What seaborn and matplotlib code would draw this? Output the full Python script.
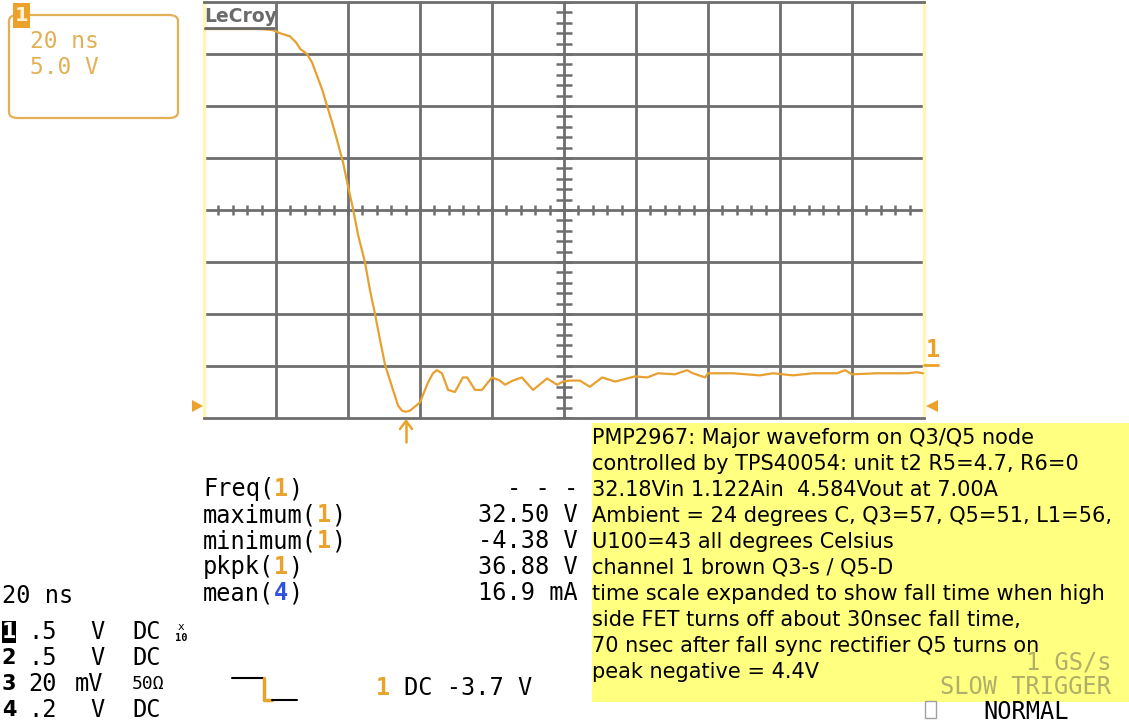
import numpy as np
import pandas as pd
import matplotlib
matplotlib.use("Agg")
import matplotlib.pyplot as plt
import seaborn as sns
from matplotlib.patches import Rectangle, FancyBboxPatch, Polygon
from matplotlib.lines import Line2D
from matplotlib.collections import LineCollection

# ---------------- data ----------------
time_ns = [0, 4.4, 10, 15.6, 19.2, 21.1, 23.9, 25.6, 26.7, 28.6, 30.0, 31.4, 32.8,
           34.2, 35.6, 36.9, 38.6, 40.0, 41.4, 42.8, 44.7, 46.1, 47.5, 48.9, 50.3,
           52.5, 53.9, 55.0, 56.1, 57.2, 60.0, 62.2, 63.6, 64.7, 66.1, 67.8, 69.7,
           71.9, 73.1, 75.3, 77.2, 80.0, 82.2, 83.6, 85.8, 88.3, 91.4, 95.3, 98.1,
           99.7, 101.7, 104.4, 107.2, 110.6, 114.2, 119.7, 123.1, 126.1, 130.8,
           134.2, 135.8, 139.2, 140.0, 146.9, 154.4, 158.1, 163.6, 169.2, 175.8,
           178.1, 180.0, 186.9, 195.3, 198.1, 199.7]
volts = [32.4, 32.4, 32.4, 32.4, 32.3, 32.0, 31.7, 31.1, 30.5, 30.0, 29.2, 27.9, 26.6,
         25.0, 23.4, 21.8, 19.6, 17.3, 15.1, 12.6, 10.0, 7.3, 5.0, 2.5, 0.1,
         -2.3, -3.8, -4.3, -4.4, -4.3, -3.5, -1.6, -0.7, -0.4, -0.7, -2.3, -2.5,
         -1.1, -1.1, -2.3, -2.3, -1.1, -1.4, -1.8, -1.4, -1.1, -2.3, -1.2, -1.8,
         -1.5, -1.4, -1.4, -2.0, -1.1, -1.5, -1.0, -1.1, -0.7, -0.8,
         -0.4, -0.7, -1.1, -0.7, -0.7, -0.9, -0.7, -0.9, -0.7, -0.7,
         -0.4, -0.8, -0.7, -0.7, -0.6, -0.7]

time_div_ticks = [20, 40, 60, 80, 100, 120, 140, 160, 180]
volt_div_ticks = [0, 5, 10, 15, 20, 25, 30]

meas_names = ["Freq", "maximum", "minimum", "pkpk", "mean"]
meas_channels = ["1", "1", "1", "1", "4"]
meas_values = ["- - -", "32.50 V", "-4.38 V", "36.88 V", "16.9 mA"]

chan_ids = ["1", "2", "3", "4"]
chan_scale = [".5", ".5", "20", ".2"]
chan_unit = ["V", "V", "mV", "V"]
chan_coupling = ["DC", "DC", "50Ω", "DC"]

note_lines = [
    "PMP2967: Major waveform on Q3/Q5 node",
    "controlled by TPS40054: unit t2 R5=4.7, R6=0",
    "32.18Vin 1.122Ain  4.584Vout at 7.00A",
    "Ambient = 24 degrees C, Q3=57, Q5=51, L1=56,",
    "U100=43 all degrees Celsius",
    "channel 1 brown Q3-s / Q5-D",
    "time scale expanded to show fall time when high",
    "side FET turns off about 30nsec fall time,",
    "70 nsec after fall sync rectifier Q5 turns on",
    "peak negative = 4.4V",
]

# ---------------- style ----------------
sns.set_style("white")
plt.rcParams['font.family'] = ['DejaVu Sans']

TRACE = "#E8A030"
ORANGE = "#EBA22A"
BOXTXT = "#E3B055"
GRID = "#6E6E6E"
LIGHTY = "#FFF6B8"
NOTE_BG = "#FFFF80"
MONO = "DejaVu Sans Mono"

W, H = 1129, 727
fig = plt.figure(figsize=(W / 100, H / 100), dpi=100)
fig.patch.set_facecolor("white")


def fx(x):
    return x / W


def fy(y):
    return 1 - y / H


def ftext(x, y, s, **kw):
    kw.setdefault("va", "center")
    kw.setdefault("ha", "left")
    return fig.text(fx(x), fy(y), s, **kw)


def fline(xs, ys, **kw):
    fig.add_artist(Line2D([fx(v) for v in xs], [fy(v) for v in ys], **kw))


# ---------------- scope grid + trace ----------------
ax = fig.add_axes([fx(204), fy(418), 720 / W, 416 / H])
df = pd.DataFrame({"t": time_ns, "v": volts})
ax.set_axisbelow(True)
sns.lineplot(data=df, x="t", y="v", ax=ax, color=TRACE, lw=1.6, zorder=5)
ax.set_xlim(0, 200)
ax.set_ylim(-5, 35)
ax.set_xticks(time_div_ticks)
ax.set_yticks(volt_div_ticks)
ax.grid(True, color=GRID, lw=2)
ax.tick_params(length=0, labelbottom=False, labelleft=False)
ax.set_xlabel("")
ax.set_ylabel("")
for side in ["top", "bottom"]:
    ax.spines[side].set_color(GRID)
    ax.spines[side].set_linewidth(2)
for side in ["left", "right"]:
    ax.spines[side].set_color(LIGHTY)
    ax.spines[side].set_linewidth(2.5)

# centre crosshair sub-division ticks
segs = []
for v in np.arange(-5, 35.01, 1.0):
    segs.append([(100 - 2.1, v), (100 + 2.1, v)])
for t in np.arange(0, 200.01, 4.0):
    segs.append([(t, 15 - 0.5), (t, 15 + 0.5)])
ax.add_collection(LineCollection(segs, colors=GRID, linewidths=1.8, zorder=1))

# LeCroy label
ftext(204, 16, "LeCroy", color="#6A6A6A", fontsize=13.5, fontweight="bold")
fline([205, 274], [28, 28], color="#6A6A6A", lw=2)

# ---------------- top-left channel box ----------------
fig.add_artist(FancyBboxPatch((fx(9), fy(118)), 169 / W, 103 / H,
                              boxstyle="round,pad=0,rounding_size=0.008",
                              transform=fig.transFigure, fc="white",
                              ec=BOXTXT, lw=1.6))
fig.add_artist(Rectangle((fx(13), fy(28)), 17 / W, 25 / H,
                         transform=fig.transFigure, fc=ORANGE, ec="none"))
ftext(21.5, 15.5, "1", color="#FFF2D0", fontsize=14, fontweight="bold", ha="center")
ftext(30, 42, "20 ns", color=BOXTXT, fontsize=16.5, family=MONO)
ftext(30, 67, "5.0 V", color=BOXTXT, fontsize=16.5, family=MONO)

# ---------------- side markers ----------------
fig.add_artist(Polygon([(fx(192), fy(400)), (fx(192), fy(412)), (fx(203), fy(406))],
                       closed=True, transform=fig.transFigure, fc=ORANGE, ec="none"))
fig.add_artist(Polygon([(fx(938), fy(400)), (fx(938), fy(412)), (fx(926), fy(406))],
                       closed=True, transform=fig.transFigure, fc=ORANGE, ec="none"))
ftext(933, 350, "1", color=ORANGE, fontsize=17, fontweight="bold", ha="center",
      family=MONO)
fline([924, 938], [365, 365], color=ORANGE, lw=2)
# trigger-position arrow under the grid
fline([406, 406], [421, 442], color=ORANGE, lw=1.8)
fline([400, 406, 412], [429, 421, 429], color=ORANGE, lw=1.8)

# ---------------- measurements ----------------
MS = 17
cw = 0.602 * MS * 100 / 72  # monospace char width in px
for i, (nm, ch, val) in enumerate(zip(meas_names, meas_channels, meas_values)):
    y = 489 + 26 * i
    x0 = 203
    ftext(x0, y, nm + "(", color="black", fontsize=MS, family=MONO)
    ftext(x0 + cw * (len(nm) + 1), y, ch,
          color=(ORANGE if ch == "1" else "#3050E0"),
          fontsize=MS, family=MONO, fontweight="bold")
    ftext(x0 + cw * (len(nm) + 2), y, ")", color="black", fontsize=MS, family=MONO)
    ftext(578, y, val, color="black", fontsize=MS, family=MONO, ha="right")

# ---------------- bottom-left channel table ----------------
ftext(2, 596, "20 ns", color="black", fontsize=MS, family=MONO)
for i, (cid, sc, un, cp) in enumerate(zip(chan_ids, chan_scale, chan_unit, chan_coupling)):
    y = 632 + 26 * i
    if i == 0:
        fig.add_artist(Rectangle((fx(2), fy(643)), 14 / W, 22 / H,
                                 transform=fig.transFigure, fc="black", ec="none"))
        ftext(9, y, cid, color="white", fontsize=15, fontweight="bold", ha="center")
    else:
        ftext(9, y, cid, color="black", fontsize=15, fontweight="bold", ha="center")
    ftext(28, y, sc, color="black", fontsize=MS, family=MONO)
    ftext(75 if un == "mV" else 90, y, un, color="black", fontsize=MS, family=MONO)
    if cp == "50Ω":
        ftext(132, y, cp, color="black", fontsize=13, family=MONO)
    else:
        ftext(132, y, cp, color="black", fontsize=MS, family=MONO)
ftext(181, 627, "x", color="black", fontsize=8, ha="center", family=MONO)
ftext(181, 638, "10", color="black", fontsize=7.5, ha="center", family=MONO,
      fontweight="bold")

# ---------------- trigger icon + level ----------------
fline([232, 263], [678, 678], color="black", lw=1.5)
fline([264, 264, 272], [678, 700, 700], color=ORANGE, lw=2.5)
fline([272, 297], [700, 700], color="black", lw=1.5)
ftext(376, 688, "1", color=ORANGE, fontsize=MS, family=MONO, fontweight="bold")
ftext(404, 688, "DC -3.7 V", color="black", fontsize=MS, family=MONO)

# ---------------- yellow annotation ----------------
fig.add_artist(Rectangle((fx(592), fy(702)), (W - 592) / W, 279 / H,
                         transform=fig.transFigure, fc=NOTE_BG, ec="none", zorder=0))
for i, line in enumerate(note_lines):
    ftext(592, 438 + 26 * i, line, color="black", fontsize=15)

ftext(1111, 662, "1 GS/s", color="#AFAF6A", fontsize=MS, family=MONO, ha="right")
ftext(1111, 687, "SLOW TRIGGER", color="#AFAF6A", fontsize=MS, family=MONO, ha="right")
fig.add_artist(Rectangle((fx(925), fy(718)), 11 / W, 17 / H,
                         transform=fig.transFigure, fc="white", ec="#A0A0A0", lw=1))
ftext(983, 712, "NORMAL", color="black", fontsize=MS, family=MONO)

fig.savefig("out.png", dpi=100, facecolor="white")
